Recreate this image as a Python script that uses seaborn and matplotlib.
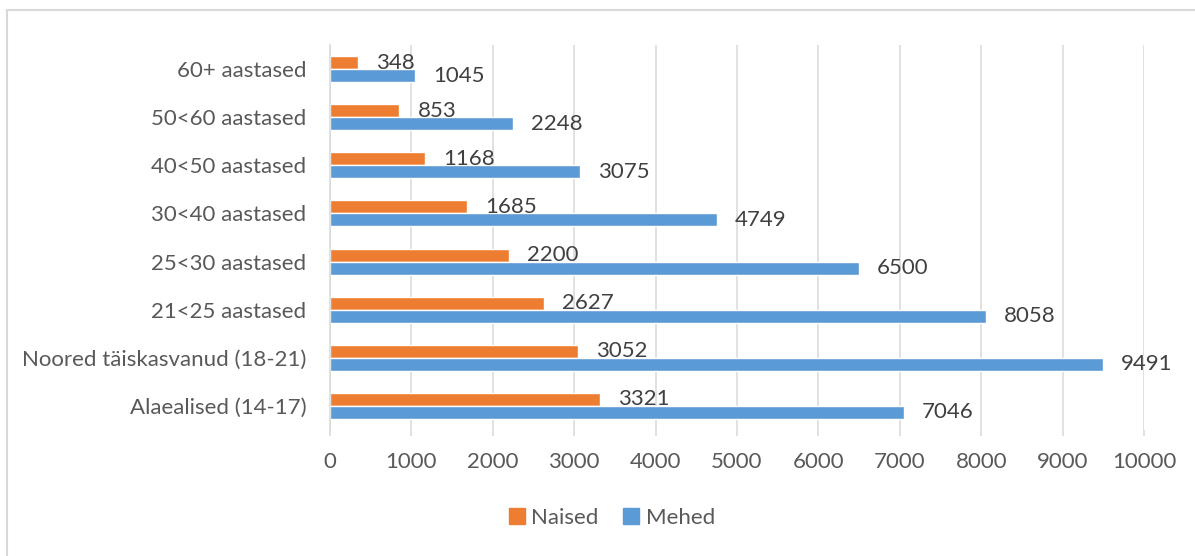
import matplotlib
matplotlib.use('Agg')
import matplotlib.pyplot as plt
import seaborn as sns
import pandas as pd
from matplotlib.lines import Line2D

groups = ['60+ aastased', '50<60 aastased', '40<50 aastased', '30<40 aastased',
          '25<30 aastased', '21<25 aastased', 'Noored täiskasvanud (18-21)', 'Alaealised (14-17)']
naised = [348, 853, 1168, 1685, 2200, 2627, 3052, 3321]
mehed = [1045, 2248, 3075, 4749, 6500, 8058, 9491, 7046]
series = ['Naised', 'Mehed']
colors = ['#ED7D31', '#5B9BD5']
xticks = list(range(0, 10001, 1000))

df = pd.DataFrame({'grupp': groups * 2,
                   'arv': naised + mehed,
                   'sugu': ['Naised'] * len(groups) + ['Mehed'] * len(groups)})

sns.set_style('white')
plt.rcParams['font.family'] = ['Lato', 'DejaVu Sans']
fs = 16

fig = plt.figure(figsize=(11.95, 5.56), dpi=100)
ax = fig.add_axes([330/1195, 1-430/556, (1144-330)/1195, (430-45)/556])

sns.barplot(data=df, y='grupp', x='arv', hue='sugu', hue_order=series,
            palette=colors, orient='h', width=0.54, order=groups,
            saturation=1, ax=ax, legend=False)

for cont in ax.containers:
    for bar in cont:
        w = bar.get_width()
        ax.annotate(f'{int(w)}', (w, bar.get_y() + bar.get_height()/2),
                    xytext=(13, 0), textcoords='offset points',
                    va='center', ha='left', fontsize=fs, color='#404040')

ax.set_xlim(0, 10000)
ax.set_xticks(xticks)
ax.set_xticklabels([str(t) for t in xticks])
ax.grid(axis='x', color='#D9D9D9', linewidth=1.1)
ax.set_axisbelow(True)
for s in ['top', 'right', 'bottom']:
    ax.spines[s].set_visible(False)
ax.spines['left'].set_color('#D9D9D9')
ax.spines['left'].set_linewidth(1.1)
ax.tick_params(axis='x', length=4, color='#D9D9D9', width=1.1, pad=12,
               labelsize=fs, labelcolor='#595959', direction='out')
ax.tick_params(axis='y', length=0, pad=17, labelsize=fs, labelcolor='#595959')
ax.xaxis.set_ticks_position('bottom')
ax.set_xlabel('')
ax.set_ylabel('')

handles = [plt.Rectangle((0, 0), 1, 1, color=c) for c in colors]
fig.legend(handles, series, loc='center', bbox_to_anchor=(612/1195, 1-518/556),
           ncol=2, frameon=False, fontsize=fs, labelcolor='#595959',
           handlelength=0.7, handleheight=0.7, handletextpad=0.3, columnspacing=1.1)

# chart border (top and left edges visible)
fig.add_artist(Line2D([7/1195, 7/1195], [0, 1-10/556], transform=fig.transFigure,
                      color='#D9D9D9', linewidth=1.5))
fig.add_artist(Line2D([7/1195, 1], [1-10/556, 1-10/556], transform=fig.transFigure,
                      color='#D9D9D9', linewidth=1.5))

fig.savefig('out.png', dpi=100)
